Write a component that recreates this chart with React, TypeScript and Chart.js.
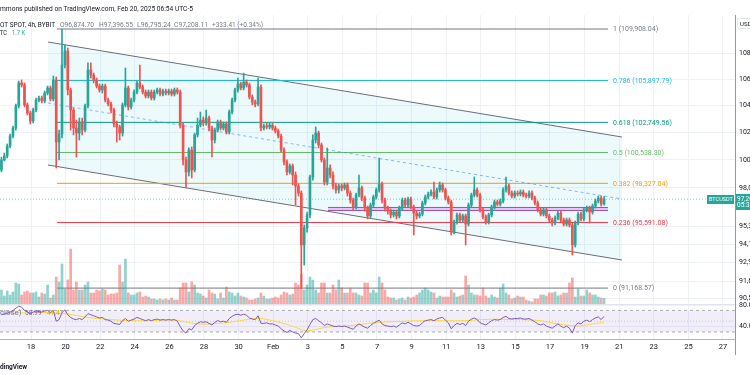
import React, { useEffect, useRef } from "react";
import { Chart, registerables } from "chart.js";

Chart.register(...registerables);

// ---------------- data (4h candles, BTCUSDT, Bybit) ----------------
const OPEN = [
  99280, 100000, 100290, 101010, 101740, 102330, 103970, 105710, 105560, 104050,
  103450, 102850, 103670, 104420, 104570, 104350, 104950, 105330, 104500, 105940,
  101300, 101890, 107090, 108180, 105180, 103670, 102330, 101960, 102780, 102180,
  103970, 106700, 106320, 105940, 105480, 105180, 105480, 104420, 104120, 103670,
  102630, 102410, 101960, 104050, 105330, 103900, 104420, 105020, 105710, 105400,
  105020, 104720, 105020, 104570, 105020, 105180, 104870, 105100, 104950, 105100,
  104870, 105180, 105020, 102550, 100000, 99140, 100720, 99280, 101820, 102550,
  102920, 102700, 103070, 102330, 101450, 102180, 102780, 102330, 102630, 102040,
  103520, 104420, 105180, 105630, 105330, 105780, 105560, 104650, 104270, 104120,
  105400, 102330, 102480, 102410, 102550, 102330, 102110, 101740, 100720, 99850,
  99140, 99570, 98920, 98140, 97640, 94050, 95210, 96110, 98780, 101450,
  101960, 101090, 100000, 98420, 99420, 98920, 98140, 97860, 98140, 98000,
  98210, 97640, 97150, 96660, 97500, 98000, 97290, 96590, 96040, 96800,
  97360, 97860, 98280, 97150, 96590, 96380, 96110, 96310, 96040, 96590,
  97150, 96800, 97220, 96660, 96240, 96040, 96170, 96940, 97360, 97570,
  97710, 97360, 97860, 98210, 97860, 97290, 97010, 94930, 95620, 96110,
  95760, 96040, 95480, 96800, 97500, 97860, 97500, 96450, 95970, 95620,
  96110, 96660, 97010, 96870, 97080, 97860, 98140, 97640, 97430, 97640,
  97570, 97710, 97500, 97430, 97640, 97290, 96940, 96450, 96170, 96450,
  96040, 95760, 95550, 95900, 96240, 95760, 95480, 95760, 95420, 94050,
  95550, 96170, 95830, 96450, 96590, 96310, 96730, 97080, 97290, 96874.7,
];
const HIGH = [
  100210, 100500, 101160, 101890, 102480, 104120, 105860, 105940, 105710, 104200,
  103590, 103820, 104570, 104720, 104720, 105100, 105480, 105480, 106240, 106170,
  102180, 109908.04, 108650, 108410, 105330, 103820, 102920, 103070, 103070, 104120,
  107250, 107250, 106470, 106090, 105630, 105630, 105630, 104570, 104270, 103820,
  102850, 102550, 104200, 106860, 105480, 104570, 105180, 105860, 107090, 105560,
  105180, 105180, 105180, 105180, 105330, 105330, 105250, 105250, 105250, 105250,
  105330, 105330, 105180, 102700, 100210, 100870, 100940, 101960, 103070, 103520,
  103150, 103670, 103220, 102480, 102330, 102920, 102920, 102780, 102780, 103670,
  104570, 105330, 106090, 105780, 106470, 105940, 105710, 104800, 104420, 106090,
  105560, 102630, 102700, 102700, 102700, 102480, 102260, 101890, 100870, 100000,
  99710, 99710, 99140, 98280, 97790, 95420, 96310, 98920, 101820, 102410,
  102110, 101230, 100140, 100870, 99640, 99140, 98350, 98280, 98280, 98350,
  98350, 97790, 97290, 97640, 98920, 98140, 97430, 96730, 96940, 97500,
  98000, 100140, 98420, 97290, 96730, 96520, 96450, 96450, 96730, 97290,
  97290, 97360, 97360, 96800, 96380, 96310, 97080, 97500, 97710, 97860,
  98420, 98000, 98420, 98350, 98000, 97430, 97150, 95760, 96240, 96240,
  96170, 96170, 96940, 97640, 98780, 98000, 97640, 96590, 96110, 96240,
  96800, 97150, 97150, 97220, 98000, 98780, 98280, 97790, 97790, 97790,
  97860, 97860, 97640, 97790, 97790, 97430, 97080, 96590, 96590, 96590,
  96170, 95900, 96040, 96380, 96380, 95900, 95900, 95900, 95550, 95690,
  96310, 96310, 96590, 96730, 96730, 96870, 97220, 97430, 97430, 97396.55,
];
const LOW = [
  99140, 99920, 100140, 100870, 101600, 102180, 103820, 105400, 103900, 103300,
  102630, 102700, 103520, 104270, 104200, 104200, 104800, 104350, 104350, 99420,
  100000, 101600, 106860, 104800, 102180, 101820, 100210, 101450, 101820, 102040,
  103820, 106090, 105710, 105330, 105020, 104950, 104270, 103970, 103450, 102410,
  101300, 101450, 101740, 103900, 103670, 103740, 104270, 104870, 105250, 104870,
  104570, 104570, 104420, 104420, 104870, 104720, 104720, 104800, 104800, 104720,
  104720, 104870, 102330, 99640, 98000, 98850, 98710, 99140, 101670, 102410,
  102480, 102550, 102110, 100210, 101230, 102040, 102180, 102180, 101890, 101890,
  103370, 104270, 105020, 105180, 105180, 105400, 104500, 104050, 103900, 103970,
  102110, 102180, 102260, 102260, 102180, 101960, 101600, 100580, 99640, 98920,
  98990, 98210, 96800, 97430, 91168.57, 92700, 94930, 95900, 98560, 101230,
  100870, 99850, 98210, 98210, 98710, 97930, 97640, 97640, 97790, 97860,
  97430, 96940, 96450, 96520, 97360, 97080, 96380, 95830, 95900, 96660,
  97220, 97710, 96940, 96380, 96170, 95900, 95970, 95830, 95900, 96450,
  96660, 96660, 96520, 94730, 95830, 95900, 96040, 96800, 97220, 97430,
  97220, 97220, 97710, 97710, 97150, 96870, 94730, 94800, 95480, 95620,
  95620, 94050, 95350, 96660, 97360, 97360, 96310, 95830, 95480, 95480,
  95970, 96520, 96730, 96730, 96940, 97710, 97500, 97290, 97290, 97430,
  97430, 97360, 97290, 97290, 97150, 96800, 96310, 96040, 96040, 95900,
  95620, 95350, 95420, 95760, 95620, 95350, 95350, 95280, 93370, 93910,
  95420, 95690, 95690, 96310, 95550, 96170, 96590, 96940, 96730, 96795.24,
];
const CLOSE = [
  100000, 100290, 101010, 101740, 102330, 103970, 105710, 105560, 104050, 103450,
  102850, 103670, 104420, 104570, 104350, 104950, 105330, 104500, 105940, 101300,
  101890, 107090, 108180, 105180, 103670, 102330, 101960, 102780, 102180, 103970,
  106700, 106320, 105940, 105480, 105180, 105480, 104420, 104120, 103670, 102630,
  102410, 101960, 104050, 105330, 103900, 104420, 105020, 105710, 105400, 105020,
  104720, 105020, 104570, 105020, 105180, 104870, 105100, 104950, 105100, 104870,
  105180, 105020, 102550, 100000, 99140, 100720, 99280, 101820, 102550, 102920,
  102700, 103070, 102330, 101450, 102180, 102780, 102330, 102630, 102040, 103520,
  104420, 105180, 105630, 105330, 105780, 105560, 104650, 104270, 104120, 105400,
  102330, 102480, 102410, 102550, 102330, 102110, 101740, 100720, 99850, 99140,
  99570, 98920, 98140, 97640, 94050, 95210, 96110, 98780, 101450, 101960,
  101090, 100000, 98420, 99420, 98920, 98140, 97860, 98140, 98000, 98210,
  97640, 97150, 96660, 97500, 98000, 97290, 96590, 96040, 96800, 97360,
  97860, 98280, 97150, 96590, 96380, 96110, 96310, 96040, 96590, 97150,
  96800, 97220, 96660, 96240, 96040, 96170, 96940, 97360, 97570, 97710,
  97360, 97860, 98210, 97860, 97290, 97010, 94930, 95620, 96110, 95760,
  96040, 95480, 96800, 97500, 97860, 97500, 96450, 95970, 95620, 96110,
  96660, 97010, 96870, 97080, 97860, 98140, 97640, 97430, 97640, 97570,
  97710, 97500, 97430, 97640, 97290, 96940, 96450, 96170, 96450, 96040,
  95760, 95550, 95900, 96240, 95760, 95480, 95760, 95420, 94050, 95550,
  96170, 95830, 96450, 96590, 96310, 96730, 97080, 97290, 96870, 97208.11,
];
// volume, thousands of BTC
const VOLUME_K = [
  4.2, 2.4, 3.9, 2.7, 3.6, 6.3, 6.0, 2.7, 3.6, 3.9,
  3.3, 3.3, 3.6, 2.1, 3.3, 3.0, 5.7, 1.8, 2.7, 8.1,
  6.6, 12.0, 4.5, 7.2, 16.5, 4.2, 6.6, 4.2, 4.2, 5.7,
  6.6, 3.3, 3.3, 4.2, 3.9, 4.5, 4.2, 2.7, 3.0, 3.0,
  3.3, 11.7, 6.6, 13.5, 3.3, 2.7, 2.7, 3.3, 3.6, 2.1,
  2.4, 2.1, 1.5, 1.5, 1.2, 1.5, 1.2, 1.5, 1.2, 1.8,
  1.2, 1.2, 4.8, 6.3, 6.3, 3.6, 6.6, 5.7, 3.3, 3.0,
  2.4, 1.8, 4.2, 3.3, 3.0, 1.5, 3.3, 1.8, 5.1, 3.6,
  3.3, 2.4, 3.3, 2.4, 2.1, 1.8, 1.2, 1.2, 1.5, 1.8,
  3.3, 2.4, 1.5, 1.5, 1.8, 2.1, 1.8, 2.7, 3.6, 3.3,
  2.7, 3.0, 6.3, 5.7, 9.0, 4.2, 5.7, 8.1, 7.2, 4.2,
  3.3, 6.3, 6.3, 3.3, 3.3, 5.7, 4.2, 7.2, 4.8, 3.3,
  3.3, 4.8, 3.3, 3.3, 2.7, 2.4, 6.3, 6.3, 3.3, 4.2,
  3.3, 8.1, 6.3, 4.2, 2.1, 1.8, 1.8, 1.2, 1.5, 1.8,
  1.2, 2.1, 1.8, 2.1, 2.7, 3.3, 4.2, 4.8, 4.2, 3.6,
  3.3, 1.8, 2.4, 2.1, 2.1, 2.1, 4.2, 3.3, 2.1, 2.4,
  2.7, 8.4, 5.7, 3.3, 2.7, 2.7, 2.4, 4.8, 2.4, 1.8,
  2.7, 2.1, 1.8, 4.8, 6.0, 3.3, 2.7, 1.5, 1.8, 2.4,
  2.1, 2.1, 1.2, 0.9, 0.6, 1.5, 1.5, 2.7, 2.7, 2.4,
  3.3, 3.3, 3.6, 2.4, 2.7, 3.3, 3.3, 6.3, 7.8, 2.1,
  4.5, 2.4, 2.4, 4.2, 3.3, 2.7, 2.7, 2.1, 1.8, 1.7,
];
const RSI = [
  62, 63, 65, 67, 70, 74, 78, 76, 70, 67,
  64, 67, 69, 68, 67, 69, 70, 66, 70, 50,
  53, 66, 71, 62, 57, 54, 53, 55, 53, 58,
  64, 62, 60, 58, 56, 57, 53, 52, 50, 46,
  45, 44, 51, 55, 50, 52, 54, 57, 55, 53,
  51, 53, 51, 53, 54, 52, 53, 52, 53, 52,
  53, 50, 40, 32, 28, 36, 34, 42, 46, 49,
  48, 49, 46, 43, 48, 51, 49, 50, 48, 55,
  59, 62, 63, 61, 63, 61, 56, 54, 53, 60,
  46, 46, 47, 45, 45, 43, 41, 36, 32, 29,
  33, 30, 28, 27, 19, 27, 34, 44, 53, 55,
  51, 47, 42, 45, 43, 41, 40, 41, 40, 41,
  39, 37, 35, 41, 45, 42, 39, 37, 42, 46,
  49, 52, 45, 42, 41, 40, 41, 39, 43, 47,
  45, 48, 45, 42, 41, 42, 47, 51, 52, 53,
  51, 54, 56, 57, 52, 47, 36, 42, 46, 44,
  46, 42, 50, 54, 56, 53, 47, 45, 43, 47,
  51, 53, 52, 53, 57, 59, 55, 54, 55, 55,
  56, 54, 54, 55, 52, 49, 45, 43, 45, 41,
  39, 37, 41, 45, 41, 38, 41, 37, 28, 42,
  47, 45, 50, 52, 49, 53, 56, 58, 53, 58.99,
];
const RSI_MA = [
  64.0, 64.1, 64.3, 64.4, 64.6, 64.8, 65.0, 65.3, 65.5, 65.6,
  65.6, 65.7, 65.8, 65.9, 65.9, 66.0, 66.0, 65.9, 65.7, 65.2,
  64.7, 64.3, 63.7, 63.1, 62.3, 61.4, 60.5, 59.6, 58.6, 57.7,
  56.9, 56.3, 55.7, 55.2, 54.7, 54.3, 53.8, 53.4, 53.0, 52.6,
  52.3, 52.0, 51.7, 51.5, 51.3, 51.1, 51.0, 50.9, 50.9, 50.8,
  50.8, 50.9, 51.0, 51.2, 51.5, 51.8, 52.0, 52.2, 52.3, 52.3,
  52.1, 51.6, 50.7, 49.6, 48.5, 47.5, 46.6, 45.8, 45.2, 44.8,
  44.6, 44.6, 44.7, 45.0, 45.4, 45.8, 46.2, 46.7, 47.3, 48.0,
  48.8, 49.6, 50.4, 51.2, 52.0, 52.9, 53.7, 54.4, 55.0, 55.4,
  55.2, 54.4, 53.3, 52.1, 50.9, 49.7, 48.4, 47.0, 45.5, 43.9,
  42.2, 40.5, 38.6, 36.6, 34.5, 33.0, 32.5, 32.8, 33.7, 34.8,
  36.0, 37.1, 38.1, 39.0, 39.6, 40.0, 40.3, 40.6, 40.9, 41.2,
  41.5, 41.9, 42.3, 42.9, 43.6, 44.3, 45.0, 45.7, 46.3, 46.9,
  47.3, 47.7, 48.1, 48.5, 48.8, 49.0, 49.2, 49.4, 49.6, 49.8,
  50.0, 50.2, 50.4, 50.6, 50.7, 50.8, 50.9, 50.9, 51.0, 51.0,
  51.0, 51.0, 51.0, 51.0, 50.9, 50.8, 50.7, 50.6, 50.6, 50.7,
  50.9, 51.1, 51.4, 51.8, 52.2, 52.5, 52.8, 53.0, 53.2, 53.3,
  53.4, 53.5, 53.5, 53.5, 53.5, 53.5, 53.5, 53.4, 53.3, 53.2,
  53.0, 52.8, 52.6, 52.4, 52.2, 52.0, 51.5, 50.8, 50.0, 49.0,
  48.0, 47.0, 46.0, 45.0, 44.2, 43.5, 42.8, 42.2, 41.7, 41.3,
  41.2, 41.5, 42.2, 43.0, 43.9, 44.9, 45.8, 46.5, 47.0, 47.41,
];

// time axis (day numbers: Jan d = d, Feb d = 31 + d)
const FIRST_BAR_DAY = 16 + 7 / 24; // Jan 16 07:00 (UTC-5)
const BAR_STEP_DAYS = 4 / 24;
const X_MIN = 16.208;
const X_MAX = 58.694;
const TICK_DAYS = [18, 20, 22, 24, 26, 28, 30, 32, 34, 36, 38, 40, 42, 44, 46, 48, 50, 52, 54, 56, 58];
const TICK_LABELS = ["18", "20", "22", "24", "26", "28", "30", "Feb", "3", "5", "7", "9", "11", "13", "15", "17", "19", "21", "23", "25", "27"];

// price axis (log)
const PRICE_TICKS = [108000, 106000, 104000, 102000, 100000, 98000, 95300, 94100, 92900, 91600, 90500];
const PRICE_MIN = 90129;
const PRICE_MAX = 111024;
const VOL_AXIS_MAX = 86.7;

// RSI pane
const RSI_TICKS = [80, 40];
const RSI_MIN = 17.0;
const RSI_MAX = 81.9;
const RSI_BAND = [70, 30];
const RSI_MID = 50;

// drawings
const FIB_RATIOS = ["1", "0.786", "0.618", "0.5", "0.382", "0.236", "0"];
const FIB_PRICES = [109908.04, 105897.79, 102749.56, 100538.3, 98327.04, 95591.08, 91168.57];
const FIB_COLORS = ["#787b86", "#22b8cf", "#089981", "#66bb6a", "#ff9800", "#f23645", "#787b86"];
const FIB_DAYS = [19.5, 51.35];
const FIB_LABEL_DAY = 51.64;
const CHANNEL_DAYS = [18.98, 52.16];
const CHANNEL_UPPER = [108882, 101669];
const CHANNEL_MID = [104194, 97222];
const CHANNEL_LOWER = [99636, 93035];
const ZONE_DAYS = [35.17, 51.35];
const ZONE_TOP = 96630;
const ZONE_BOTTOM = 96420;

// ---------------- styling ----------------
const FONT = 'Roboto, "Noto Sans", sans-serif';
const UP = "#26a69a";
const DOWN = "#ef5350";
const UP_VOL = "rgba(38,166,154,0.5)";
const DOWN_VOL = "rgba(239,83,80,0.5)";
const GRID = "#eef1f6";
const TEXT = "#131722";
const MUTED = "#787b86";

const fmt = (v: number) =>
  v.toLocaleString("en-US", { minimumFractionDigits: 2, maximumFractionDigits: 2 });

const seg = (days: number[], vals: number[]) => days.map((d, i) => ({ x: d, y: vals[i] }));

// overlay texts: [text, x, baseline, width, color, size, weight]
const OVERLAY_TEXTS: [string, number, number, number, string, number, number][] = [
  ["mmons published on TradingView.com, Feb 20, 2025 06:54 UTC-5", 0, 10.5, 193, TEXT, 7.5, 400],
  ["OT SPOT, 4h, BYBIT", 0, 26.5, 55, TEXT, 7.5, 400],
  ["O96,874.70", 60, 26.5, 34, MUTED, 7, 400],
  ["H97,396.55", 99, 26.5, 34, MUTED, 7, 400],
  ["L96,795.24", 137, 26.5, 34, MUTED, 7, 400],
  ["C97,208.11", 174, 26.5, 34, MUTED, 7, 400],
  ["+333.41 (+0.34%)", 212, 26.5, 51, MUTED, 7, 400],
  ["TC", 0, 35.2, 7, TEXT, 7, 400],
  ["1.7 K", 12, 35.2, 13, UP, 7, 400],
  ["close)", 0, 314.5, 21.5, MUTED, 7, 400],
  ["58.99", 25, 314.5, 16.5, "#7e57c2", 7, 400],
  ["47.41", 47, 314.5, 16.5, "#c9a800", 7, 400],
  ["dingView", 0, 369, 27, TEXT, 8, 700],
];

export default function App() {
  const priceRef = useRef<HTMLCanvasElement>(null);
  const rsiRef = useRef<HTMLCanvasElement>(null);

  useEffect(() => {
    const times = CLOSE.map((_, i) => FIRST_BAR_DAY + i * BAR_STEP_DAYS);
    const up = CLOSE.map((c, i) => c >= OPEN[i]);
    const candleColors = up.map((u) => (u ? UP : DOWN));
    const volColors = up.map((u) => (u ? UP_VOL : DOWN_VOL));
    const lastClose = CLOSE[CLOSE.length - 1];

    const lineBase = { type: "line" as const, pointRadius: 0, borderWidth: 1, tension: 0, fill: false };

    const fibSets = FIB_PRICES.map((p, i) => ({
      ...lineBase,
      data: seg(FIB_DAYS, [p, p]),
      borderColor: FIB_COLORS[i],
      order: 15,
    }));

    const annotate = {
      id: "annotate",
      afterDraw(chart: any) {
        const { ctx, chartArea } = chart;
        const xs = chart.scales.x;
        const ys = chart.scales.y;
        ctx.save();
        ctx.font = `7px ${FONT}`;
        ctx.textBaseline = "middle";
        ctx.textAlign = "left";
        FIB_PRICES.forEach((p, i) => {
          ctx.fillStyle = FIB_COLORS[i];
          ctx.fillText(`${FIB_RATIOS[i]} (${fmt(p)})`, xs.getPixelForValue(FIB_LABEL_DAY), ys.getPixelForValue(p) + 0.5);
        });
        const py = Math.round(ys.getPixelForValue(lastClose));
        ctx.fillStyle = UP;
        ctx.fillRect(chartArea.right - 28, py - 4, 27, 9);
        ctx.fillRect(chartArea.right, py - 5, 15, 16);
        ctx.fillStyle = "#ffffff";
        ctx.font = `5.5px ${FONT}`;
        ctx.fillText("BTCUSDT", chartArea.right - 26, py + 0.5);
        ctx.font = `6.5px ${FONT}`;
        ctx.fillText(fmt(lastClose), chartArea.right + 2, py);
        ctx.fillText("05:36", chartArea.right + 2, py + 6.5);
        ctx.restore();
      },
    };

    const priceChart = new Chart(priceRef.current as HTMLCanvasElement, {
      type: "bar",
      data: {
        datasets: [
          {
            ...lineBase,
            data: seg(CHANNEL_DAYS, CHANNEL_UPPER),
            borderColor: "#6a6d78",
            fill: "+1",
            backgroundColor: "rgba(0,188,212,0.075)",
            order: 20,
          } as any,
          { ...lineBase, data: seg(CHANNEL_DAYS, CHANNEL_LOWER), borderColor: "#6a6d78", order: 19 } as any,
          {
            ...lineBase,
            data: seg(CHANNEL_DAYS, CHANNEL_MID),
            borderColor: "rgba(66,133,244,0.6)",
            borderDash: [3, 3],
            order: 14,
          } as any,
          ...(fibSets as any[]),
          {
            ...lineBase,
            data: seg(ZONE_DAYS, [ZONE_TOP, ZONE_TOP]),
            borderColor: "#ab47bc",
            fill: "+1",
            backgroundColor: "rgba(171,71,188,0.25)",
            order: 10,
          } as any,
          { ...lineBase, data: seg(ZONE_DAYS, [ZONE_BOTTOM, ZONE_BOTTOM]), borderColor: "#ab47bc", order: 10 } as any,
          {
            ...lineBase,
            data: seg([X_MIN, X_MAX], [lastClose, lastClose]),
            borderColor: "rgba(38,166,154,0.55)",
            borderDash: [1, 2],
            order: 9,
          } as any,
          {
            type: "bar",
            data: times.map((t, i) => ({ x: t, y: VOLUME_K[i] })),
            yAxisID: "yV",
            backgroundColor: volColors,
            barThickness: 2,
            grouped: false,
            order: 12,
          } as any,
          {
            type: "bar",
            data: times.map((t, i) => ({ x: t, y: [LOW[i], HIGH[i]] })),
            backgroundColor: candleColors,
            barThickness: 1,
            grouped: false,
            order: 2,
          } as any,
          {
            type: "bar",
            data: times.map((t, i) => ({ x: t, y: [OPEN[i], CLOSE[i]] })),
            backgroundColor: candleColors,
            barThickness: 2,
            minBarLength: 1,
            grouped: false,
            order: 1,
          } as any,
        ],
      },
      options: {
        responsive: false,
        maintainAspectRatio: false,
        animation: false,
        events: [],
        layout: { padding: { top: 15, left: 0, right: 0, bottom: 0 } },
        plugins: { legend: { display: false }, tooltip: { enabled: false } },
        scales: {
          x: {
            type: "linear",
            min: X_MIN,
            max: X_MAX,
            offset: false,
            grid: { color: GRID, drawTicks: false, offset: false },
            border: { display: false },
            ticks: { display: false },
            afterBuildTicks: (s: any) => {
              s.ticks = TICK_DAYS.map((v) => ({ value: v }));
            },
            afterFit: (s: any) => {
              s.height = 0;
              s.paddingLeft = 0;
              s.paddingRight = 0;
            },
          },
          y: {
            type: "logarithmic",
            position: "right",
            min: PRICE_MIN,
            max: PRICE_MAX,
            beginAtZero: false,
            grid: { color: GRID, drawTicks: false },
            border: { display: false },
            ticks: {
              font: { family: FONT, size: 7 },
              color: TEXT,
              padding: 4,
              callback: (v: any) => fmt(Number(v)),
            },
            afterBuildTicks: (s: any) => {
              s.ticks = PRICE_TICKS.map((v) => ({ value: v }));
            },
            afterFit: (s: any) => {
              s.width = 15;
              s.paddingTop = 0;
              s.paddingBottom = 0;
            },
          },
          yV: { type: "linear", display: false, min: 0, max: VOL_AXIS_MAX },
        },
      } as any,
      plugins: [annotate],
    });

    const rsiChart = new Chart(rsiRef.current as HTMLCanvasElement, {
      type: "line",
      data: {
        datasets: [
          {
            ...lineBase,
            data: seg([X_MIN, X_MAX], [RSI_BAND[0], RSI_BAND[0]]),
            borderColor: "rgba(120,123,134,0.6)",
            borderDash: [3, 3],
            fill: "+1",
            backgroundColor: "rgba(126,87,194,0.1)",
            order: 5,
          } as any,
          {
            ...lineBase,
            data: seg([X_MIN, X_MAX], [RSI_BAND[1], RSI_BAND[1]]),
            borderColor: "rgba(120,123,134,0.6)",
            borderDash: [3, 3],
            order: 5,
          } as any,
          {
            ...lineBase,
            data: seg([X_MIN, X_MAX], [RSI_MID, RSI_MID]),
            borderColor: "rgba(120,123,134,0.35)",
            borderDash: [1, 2],
            order: 5,
          } as any,
          {
            ...lineBase,
            data: times.map((t, i) => ({ x: t, y: RSI_MA[i] })),
            borderColor: "#fdd835",
            order: 2,
          } as any,
          {
            ...lineBase,
            data: times.map((t, i) => ({ x: t, y: RSI[i] })),
            borderColor: "#7e57c2",
            order: 1,
          } as any,
        ],
      },
      options: {
        responsive: false,
        maintainAspectRatio: false,
        animation: false,
        events: [],
        layout: { padding: { top: 10, left: 0, right: 0, bottom: 0 } },
        plugins: { legend: { display: false }, tooltip: { enabled: false } },
        scales: {
          x: {
            type: "linear",
            min: X_MIN,
            max: X_MAX,
            offset: false,
            grid: { color: GRID, drawTicks: false },
            border: { display: true, color: "#b2b5be" },
            ticks: {
              font: { family: FONT, size: 7.5 },
              color: TEXT,
              padding: 4,
              maxRotation: 0,
              autoSkip: false,
              callback: (_v: any, idx: number) => TICK_LABELS[idx],
            },
            afterBuildTicks: (s: any) => {
              s.ticks = TICK_DAYS.map((v) => ({ value: v }));
            },
            afterFit: (s: any) => {
              s.height = 25;
              s.paddingLeft = 0;
              s.paddingRight = 0;
            },
          },
          y: {
            type: "linear",
            position: "right",
            min: RSI_MIN,
            max: RSI_MAX,
            grid: { color: GRID, drawTicks: false },
            border: { display: false },
            ticks: {
              font: { family: FONT, size: 7 },
              color: TEXT,
              padding: 4,
              callback: (v: any) => Number(v).toFixed(2),
            },
            afterBuildTicks: (s: any) => {
              s.ticks = RSI_TICKS.map((v) => ({ value: v }));
            },
            afterFit: (s: any) => {
              s.width = 15;
              s.paddingTop = 0;
              s.paddingBottom = 0;
            },
          },
        },
      } as any,
    });

    return () => {
      priceChart.destroy();
      rsiChart.destroy();
    };
  }, []);

  return (
    <div
      style={{
        position: "fixed",
        left: 0,
        top: 0,
        width: 750,
        height: 375,
        background: "#ffffff",
        overflow: "hidden",
        fontFamily: FONT,
      }}
    >
      <canvas
        ref={priceRef}
        width={750}
        height={304}
        style={{ position: "absolute", left: 0, top: 0, width: 750, height: 304 }}
      />
      <canvas
        ref={rsiRef}
        width={750}
        height={70}
        style={{ position: "absolute", left: 0, top: 294, width: 750, height: 70 }}
      />
      {/* pane separator and price axis line */}
      <div style={{ position: "absolute", left: 0, top: 304, width: 735, height: 1, background: "#e0e3eb" }} />
      <div style={{ position: "absolute", left: 735, top: 15, width: 1, height: 340, background: "#9598a1" }} />

      <svg
        width={750}
        height={375}
        style={{ position: "absolute", left: 0, top: 0, pointerEvents: "none" }}
      >
        {OVERLAY_TEXTS.map(([t, x, y, w, c, s, fw], i) => (
          <text
            key={i}
            x={x}
            y={y}
            textLength={w}
            lengthAdjust="spacingAndGlyphs"
            fill={c}
            fontSize={s}
            fontWeight={fw}
            fontFamily={FONT}
          >
            {t}
          </text>
        ))}
        {/* currency box */}
        <rect x={737.5} y={18.5} width={20} height={10} rx={2} fill="#ffffff" stroke="#e0e3eb" />
        <text x={740} y={25.8} fill={TEXT} fontSize={6} fontFamily={FONT}>
          USDT
        </text>
      </svg>
    </div>
  );
}
